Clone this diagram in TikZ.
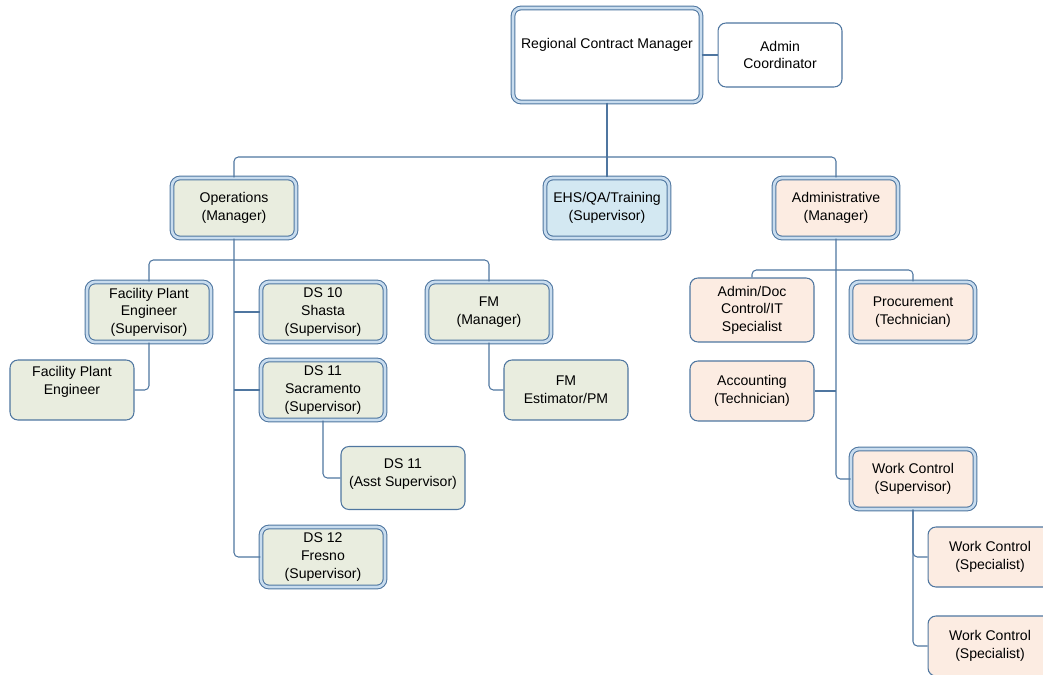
\documentclass[tikz,border=0pt]{standalone}
\usepackage{fontspec}
\setmainfont{Liberation Sans}
\usetikzlibrary{positioning}

\definecolor{linec}{RGB}{79,118,160}
\definecolor{dblc}{RGB}{200,220,238}
\definecolor{opsg}{RGB}{233,237,223}
\definecolor{ehsb}{RGB}{211,232,242}
\definecolor{admp}{RGB}{252,236,226}

\begin{document}
\begin{tikzpicture}[x=0.02cm, y=-0.02cm, font=\fontsize{8}{10}\selectfont,
        post/.style={draw=linec, line width=0.6pt, rounded corners=4.5pt, align=center,
                     minimum width=2.48cm, minimum height=1.2cm, inner sep=2pt},
        headpost/.style={post, double=dblc, double distance=1.5pt},
        link/.style={draw=linec, line width=0.6pt, rounded corners=2.5pt}]
        \useasboundingbox (0,0) rectangle (1043,675);

        % top
        \node[headpost, fill=white, minimum width=3.76cm, minimum height=1.88cm, text depth=13pt] (rcm) at (607,55) {Regional Contract Manager};
        \node[post, fill=white, minimum height=1.28cm] (adc) at (780,55) {Admin\\Coordinator};

        % managers
        \node[headpost, fill=opsg] (ops) at (234,208) {Operations\\(Manager)};
        \node[headpost, fill=ehsb] (ehs) at (607,208) {EHS/QA/Training\\(Supervisor)};
        \node[headpost, fill=admp] (adm) at (836,208) {Administrative\\(Manager)};

        % operations
        \node[headpost, fill=opsg] (fpes) at (149,312) {Facility Plant\\Engineer\\(Supervisor)};
        \node[post, fill=opsg, text depth=11pt] (fpe) at (72,390) {Facility Plant\\Engineer};
        \node[headpost, fill=opsg] (ds10) at (323,312) {DS 10\\Shasta\\(Supervisor)};
        \node[headpost, fill=opsg] (ds11) at (323,390) {DS 11\\Sacramento\\(Supervisor)};
        \node[post, fill=opsg, minimum height=1.26cm, text depth=6pt] (ds11a) at (403,478) {DS 11\\(Asst Supervisor)};
        \node[headpost, fill=opsg] (ds12) at (323,557) {DS 12\\Fresno\\(Supervisor)};
        \node[headpost, fill=opsg] (fmm) at (489,312) {FM\\(Manager)};
        \node[post, fill=opsg] (fme) at (566,390) {FM\\Estimator/PM};

        % administrative
        \node[post, fill=admp, minimum height=1.28cm] (adoc) at (752,310) {Admin/Doc\\Control/IT\\Specialist};
        \node[headpost, fill=admp] (proc) at (913,312) {Procurement\\(Technician)};
        \node[post, fill=admp] (acc) at (752,391) {Accounting\\(Technician)};
        \node[headpost, fill=admp] (wcs) at (913,479) {Work Control\\(Supervisor)};
        \node[post, fill=admp] (wsp1) at (990,557) {Work Control\\(Specialist)};
        \node[post, fill=admp] (wsp2) at (990,646) {Work Control\\(Specialist)};

        % connectors
        \coordinate (b1) at (607,157);
        \coordinate (b2) at (234,260);
        \coordinate (b3) at (836,270);

        \draw[link] (rcm) -- (adc);
        \draw[link] (rcm) -- (rcm |- b1);
        \draw[link] (ops) |- (b1) -| (adm);
        \draw[link] (ehs) -- (ehs |- b1);

        \draw[link] (fpes) |- (b2) -| (fmm);
        \draw[link] (ops) |- (ds12);
        \draw[link] (ops.south |- ds10) -- (ds10);
        \draw[link] (ops.south |- ds11) -- (ds11);
        \draw[link] (fpes) |- (fpe);
        \draw[link] (ds11) |- (ds11a);
        \draw[link] (fmm) |- (fme);

        \draw[link] (adoc) |- (b3) -| (proc);
        \draw[link] (adm) |- (wcs);
        \draw[link] (adm.south |- acc) -- (acc);
        \draw[link] (wcs) |- (wsp1);
        \draw[link] (wcs) |- (wsp2);
\end{tikzpicture}
\end{document}
